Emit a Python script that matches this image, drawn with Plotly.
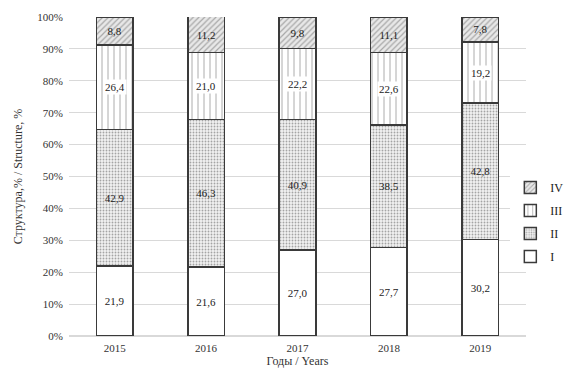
import plotly.graph_objects as go

years = ["2015", "2016", "2017", "2018", "2019"]
s_I = [21.9, 21.6, 27.0, 27.7, 30.2]
s_II = [42.9, 46.3, 40.9, 38.5, 42.8]
s_III = [26.4, 21.0, 22.2, 22.6, 19.2]
s_IV = [8.8, 11.2, 9.8, 11.1, 7.8]
y_ticks = [0, 10, 20, 30, 40, 50, 60, 70, 80, 90, 100]

FONT = "Liberation Serif, Times New Roman, serif"

def fmt(v):
    return f"{v:.1f}".replace(".", ",")

fig = go.Figure()
line = dict(color="#3a3a3a", width=1.5)

fig.add_trace(go.Bar(
    name="I", x=years, y=s_I, text=[fmt(v) for v in s_I], legendgroup="I", legendrank=4,
    textposition="inside", insidetextanchor="middle",
    marker=dict(color="white", line=line),
))
fig.add_trace(go.Bar(
    name="II", x=years, y=s_II, text=[fmt(v) for v in s_II], legendgroup="II", legendrank=3,
    textposition="inside", insidetextanchor="middle",
    marker=dict(color="white", line=line,
                pattern=dict(shape=".", fgcolor="#555555", bgcolor="#f2f2f2",
                             size=3, solidity=0.3)),
))
fig.add_trace(go.Bar(
    name="III", x=years, y=s_III, text=[""] * len(s_III), legendgroup="III", legendrank=2,
    textposition="none",
    marker=dict(color="white", line=line,
                pattern=dict(shape="|", fgcolor="#444444", bgcolor="white",
                             size=6, solidity=0.15)),
))
fig.add_trace(go.Bar(
    name="IV", x=years, y=s_IV, text=[fmt(v) for v in s_IV], legendgroup="IV", legendrank=1,
    textposition="inside", insidetextanchor="middle",
    marker=dict(color="white", line=line,
                pattern=dict(shape="/", fgcolor="#666666", bgcolor="#e8e8e8",
                             size=4, solidity=0.3)),
))

# III labels with white background boxes (category index positions)
for i, yr in enumerate(years):
    base = s_I[i] + s_II[i]
    fig.add_annotation(x=i, y=base + s_III[i] / 2, text=fmt(s_III[i]),
                       showarrow=False, bgcolor="white", borderpad=1,
                       font=dict(family=FONT, size=11, color="#222"))

fig.update_traces(textfont=dict(family=FONT, size=11, color="#222"),
                  selector=dict(type="bar"))

fig.update_layout(
    barmode="stack",
    bargap=0.6,
    width=575, height=376,
    margin=dict(l=61, r=57, t=9, b=48),
    plot_bgcolor="white", paper_bgcolor="white",
    font=dict(family=FONT, size=11, color="#333"),
    legend=dict(traceorder="grouped", tracegroupgap=4,
                x=0.9657, xanchor="left",
                y=0.357, yanchor="middle", font=dict(family=FONT, size=12, color="#222")),
    xaxis=dict(type="category", range=[-0.5, len(years) - 0.5], automargin=False,
               title=dict(text="Годы / Years", font=dict(size=12), standoff=2),
               showline=False, ticks="", tickfont=dict(size=11), zeroline=False,
               ticklabelstandoff=4),
    yaxis=dict(title=dict(text="Структура,% / Structure, %", font=dict(size=12), standoff=12),
               automargin=False,
               range=[0, 100], tickvals=y_ticks, ticktext=[f"{v}%" for v in y_ticks],
               gridcolor="#d9d9d9", gridwidth=1, zeroline=True, zerolinecolor="#d9d9d9",
               tickfont=dict(size=11), ticklabelstandoff=5),
    showlegend=True,
)

fig.write_html("out.html")
